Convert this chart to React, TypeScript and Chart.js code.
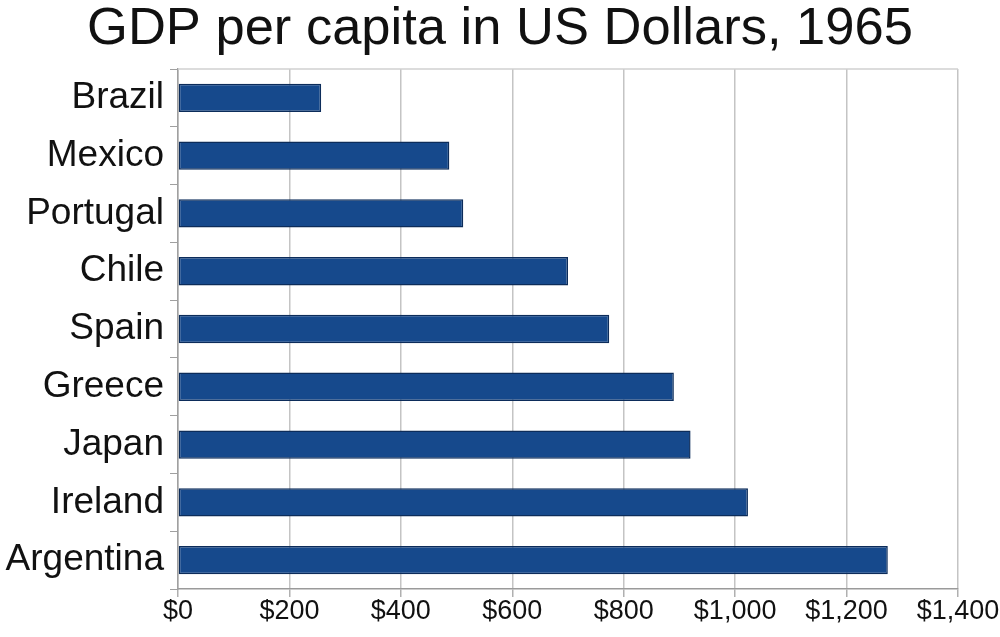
import React, { useEffect, useRef } from "react";
import { Chart, registerables } from "chart.js";

Chart.register(...registerables);

const countries = ["Brazil", "Mexico", "Portugal", "Chile", "Spain", "Greece", "Japan", "Ireland", "Argentina"];
const gdpPerCapita = [257, 487, 512, 700, 774, 890, 920, 1023, 1274];
const xTicks = [0, 200, 400, 600, 800, 1000, 1200, 1400];
const titleText = "GDP per capita in US Dollars, 1965";

const FONT = "'Liberation Sans', Arial, sans-serif";

const decorations = {
  id: "decorations",
  afterDraw(chart: any) {
    const { ctx, chartArea, width } = chart;
    ctx.save();
    ctx.strokeStyle = "#d0d0d0";
    ctx.lineWidth = 1.5;
    ctx.beginPath();
    ctx.moveTo(chartArea.left, chartArea.top);
    ctx.lineTo(chartArea.right, chartArea.top);
    ctx.stroke();
    ctx.fillStyle = "#111";
    ctx.font = `52.5px ${FONT}`;
    ctx.textAlign = "center";
    ctx.textBaseline = "alphabetic";
    ctx.fillText(titleText, width / 2, 44);
    ctx.restore();
  },
};

export default function App() {
  const ref = useRef<HTMLCanvasElement | null>(null);
  useEffect(() => {
    document.body.style.margin = "0";
    const ctx = ref.current!;
    const chart = new Chart(ctx, {
      type: "bar",
      data: {
        labels: countries,
        datasets: [
          {
            label: "GDP per capita",
            data: gdpPerCapita,
            backgroundColor: "#16498c",
            borderColor: "#0c2c5a",
            borderWidth: 1.5,
            borderSkipped: false,
            barPercentage: 0.49,
            categoryPercentage: 1,
          },
        ],
      },
      plugins: [decorations],
      options: {
        indexAxis: "y",
        animation: false,
        responsive: false,
        maintainAspectRatio: false,
        layout: { padding: { left: 0, right: 42, top: 69, bottom: 0 } },
        plugins: {
          legend: { display: false },
          tooltip: { enabled: false },
          title: { display: false, text: titleText },
        },
        scales: {
          x: {
            min: 0,
            max: 1400,
            afterBuildTicks: (axis: any) => {
              axis.ticks = xTicks.map((v) => ({ value: v }));
            },
            ticks: {
              color: "#111",
              font: { family: FONT, size: 27, lineHeight: 1.1 },
              padding: 0,
              maxRotation: 0,
              autoSkip: false,
              callback: (v: any) => "$" + Number(v).toLocaleString("en-US"),
            },
            grid: { color: "#c4c4c4", lineWidth: 1.5, tickLength: 8, tickColor: "#b0b0b0" },
            border: { color: "#9a9a9a", width: 1.5 },
            afterFit: (axis: any) => {
              axis.height = 48;
            },
          },
          y: {
            ticks: {
              color: "#111",
              font: { family: FONT, size: 37 },
              padding: 6,
              autoSkip: false,
            },
            grid: { drawOnChartArea: false, offset: true, tickLength: 8, tickColor: "#a0a0a0" },
            border: { color: "#a0a0a0", width: 1.5 },
            afterFit: (axis: any) => {
              axis.width = 178;
            },
          },
        },
      },
    });
    return () => chart.destroy();
  }, []);
  return (
    <div style={{ width: 1000, height: 637, background: "#fff" }}>
      <canvas ref={ref} width={1000} height={637} style={{ display: "block" }} />
    </div>
  );
}
